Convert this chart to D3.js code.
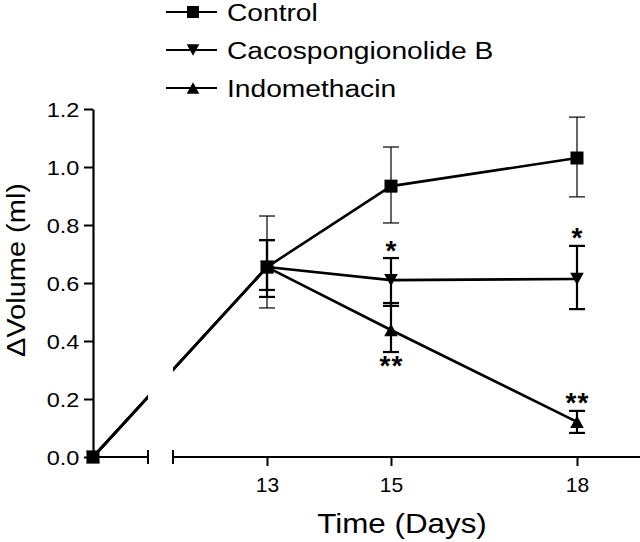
<!DOCTYPE html>
<html>
<head>
<meta charset="utf-8">
<script src="https://cdn.jsdelivr.net/npm/d3@7"></script>
<style>
  html, body { margin: 0; padding: 0; background: #fff; }
  svg { display: block; font-family: Arial, "Liberation Sans", Helvetica, sans-serif; }
</style>
</head>
<body>
<svg id="chart" width="640" height="542"></svg>
<script>
// ---------------- data ----------------
const days = [0, 13, 15, 18];
const seriesNames = ["Control", "Cacospongionolide B", "Indomethacin"];
const controlMean = [0, 0.655, 0.934, 1.031];
const controlHi   = [null, 0.831, 1.069, 1.172];
const controlLo   = [null, 0.514, 0.807, 0.897];
const cacoMean = [0, 0.655, 0.610, 0.614];
const cacoHi   = [null, 0.748, 0.686, 0.728];
const cacoLo   = [null, 0.552, 0.521, 0.510];
const indoMean = [0, 0.655, 0.438, 0.121];
const indoHi   = [null, 0.748, 0.531, 0.159];
const indoLo   = [null, 0.576, 0.362, 0.083];
const cacoSig  = ["", "", "*", "*"];      // drawn above upper bar
const indoSig  = ["", "", "**", "**"];    // 15: below, 18: above
const indoSigSide = ["", "", "below", "above"];
const xTickValues = [13, 15, 18];
const yTickValues = [0, 0.2, 0.4, 0.6, 0.8, 1.0, 1.2];
const xTitle = "Time (Days)";
const yTitle = "\u0394Volume (ml)";

// ---------------- layout ----------------
const svg = d3.select("#chart");
const x = d3.scaleLinear().domain([0, 13, 19]).range([93, 267, 639]);
const y = d3.scaleLinear().domain([0, 1.2]).range([457, 109]);
const breakL = 148, breakR = 173;   // axis-break gap (pixels)

const series = [
  { name: seriesNames[0], mean: controlMean, hi: controlHi, lo: controlLo, marker: "square", errW: 1.2 },
  { name: seriesNames[1], mean: cacoMean, hi: cacoHi, lo: cacoLo, marker: "down", errW: 2.2 },
  { name: seriesNames[2], mean: indoMean, hi: indoHi, lo: indoLo, marker: "up", errW: 2.2 }
];

function markerPath(type, s) {
  if (type === "square") return `M${-s/2},${-s/2}h${s}v${s}h${-s}Z`;
  const h = s * 0.95, w = s * 1.05;
  if (type === "down") return `M${-w/2},${-h/2}L${w/2},${-h/2}L0,${h/2}Z`;
  return `M${-w/2},${h/2}L${w/2},${h/2}L0,${-h/2}Z`;
}

function stretchedText(g, tx, ty, txt, size, sx, anchor) {
  return g.append("text")
    .attr("transform", `translate(${tx},${ty}) scale(${sx},1)`)
    .attr("text-anchor", anchor || "start")
    .attr("font-size", size)
    .attr("fill", "#000")
    .text(txt);
}

// clip path for the broken axis gap
const defs = svg.append("defs");
const clip = defs.append("clipPath").attr("id", "gapclip");
clip.append("rect").attr("x", 0).attr("y", 0).attr("width", breakL).attr("height", 542);
clip.append("rect").attr("x", breakR).attr("y", 0).attr("width", 640 - breakR).attr("height", 542);

// ---------------- axes ----------------
const yAxis = d3.axisLeft(y).tickValues(yTickValues).tickFormat(d3.format(".1f")).tickSize(9).tickSizeOuter(0).tickPadding(3);
const yg = svg.append("g").attr("transform", `translate(${x(0)},0)`).call(yAxis);
yg.select(".domain").attr("stroke-width", 2.2);
yg.selectAll(".tick line").attr("stroke-width", 2);
yg.selectAll(".tick text").attr("font-size", 21).attr("font-family", "Arial, 'Liberation Sans', sans-serif")
  .attr("transform", "scale(1.12,1)").attr("x", -12 / 1.12 - 1.5).attr("dy", "0.36em");

const xAxis = d3.axisBottom(x).tickValues(xTickValues).tickSize(9).tickSizeOuter(0).tickPadding(11);
const xg = svg.append("g").attr("transform", `translate(0,${y(0)})`).call(xAxis);
xg.select(".domain").remove();
xg.selectAll(".tick line").attr("stroke-width", 2);
xg.selectAll(".tick text").attr("font-size", 21).attr("font-family", "Arial, 'Liberation Sans', sans-serif");
// axis segments with break bars
const y0 = y(0);
svg.append("line").attr("x1", x(0)).attr("x2", breakL).attr("y1", y0).attr("y2", y0).attr("stroke", "#000").attr("stroke-width", 2.2);
svg.append("line").attr("x1", breakR).attr("x2", x.range()[2] + 1).attr("y1", y0).attr("y2", y0).attr("stroke", "#000").attr("stroke-width", 2.2);
[breakL, breakR].forEach(bx => {
  svg.append("line").attr("x1", bx).attr("x2", bx).attr("y1", y0 - 7).attr("y2", y0 + 7).attr("stroke", "#000").attr("stroke-width", 2);
});

// axis titles
stretchedText(svg, 402, 533, xTitle, 28, 1.12, "middle");
svg.append("text")
  .attr("transform", `translate(25,270) rotate(-90) scale(1.16,1)`)
  .attr("text-anchor", "middle").attr("font-size", 25).attr("fill", "#000").text(yTitle);

// ---------------- series ----------------
const line = d3.line().x((d, i) => x(days[i])).y(d => y(d));
const plot = svg.append("g");
const lines = plot.append("g").attr("clip-path", "url(#gapclip)");
series.forEach(s => {
  lines.append("path").attr("d", line(s.mean)).attr("fill", "none").attr("stroke", "#000").attr("stroke-width", 2.6)
    .attr("stroke-linejoin", "round");
});

// error bars
const capW = 16;
series.forEach(s => {
  s.mean.forEach((m, i) => {
    if (s.hi[i] == null) return;
    const cx = x(days[i]);
    const g = plot.append("g").attr("stroke", "#000").attr("stroke-width", s.errW);
    g.append("line").attr("x1", cx).attr("x2", cx).attr("y1", y(s.hi[i])).attr("y2", y(s.lo[i]));
    g.append("line").attr("x1", cx - capW/2).attr("x2", cx + capW/2).attr("y1", y(s.hi[i])).attr("y2", y(s.hi[i]));
    g.append("line").attr("x1", cx - capW/2).attr("x2", cx + capW/2).attr("y1", y(s.lo[i])).attr("y2", y(s.lo[i]));
  });
});

// markers
series.forEach(s => {
  s.mean.forEach((m, i) => {
    plot.append("path").attr("d", markerPath(s.marker, 13))
      .attr("transform", `translate(${x(days[i])},${y(m)})`).attr("fill", "#000");
  });
});

// significance stars
function star(cx, cy, txt) {
  plot.append("text").attr("x", cx + (txt.length > 1 ? 0.5 : 0)).attr("y", cy).attr("text-anchor", "middle")
    .attr("font-size", 28).attr("font-weight", "bold").attr("fill", "#000")
    .attr("letter-spacing", txt.length > 1 ? 1 : 0).text(txt);
}
cacoSig.forEach((t, i) => { if (t) star(x(days[i]), y(cacoHi[i]) + 1.5, t); });
indoSig.forEach((t, i) => {
  if (!t) return;
  if (indoSigSide[i] === "below") star(x(days[i]), y(indoLo[i]) + 22.5, t);
  else star(x(days[i]), y(indoHi[i]) + 1.5, t);
});

// ---------------- legend ----------------
const legend = svg.append("g");
const legendRows = [12, 50, 88];
series.forEach((s, i) => {
  const ly = legendRows[i];
  legend.append("line").attr("x1", 166).attr("x2", 217).attr("y1", ly).attr("y2", ly).attr("stroke", "#000").attr("stroke-width", 2);
  legend.append("path").attr("d", markerPath(s.marker, 12)).attr("transform", `translate(193,${ly})`).attr("fill", "#000");
  stretchedText(legend, 227, ly + 9, s.name, 24.5, 1.15, "start");
});
</script>
</body>
</html>
